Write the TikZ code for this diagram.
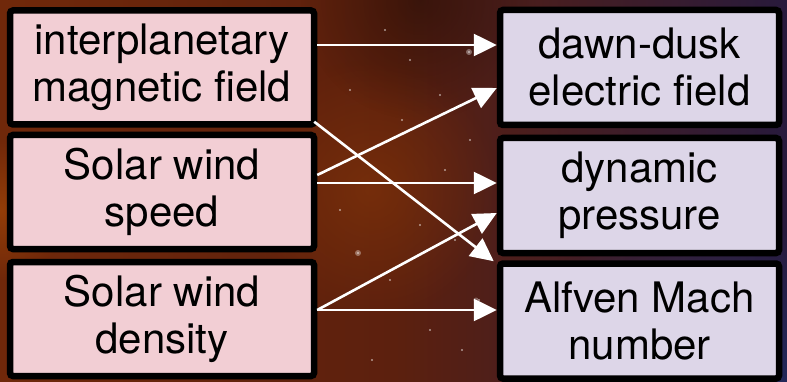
\documentclass[tikz,border=0pt]{standalone}
\usepackage{fontspec}
\setmainfont{TeX Gyre Heros}
\usetikzlibrary{arrows.meta,fadings}
\tikzfading[name=softfade, inner color=transparent!0, outer color=transparent!100]
\definecolor{srcfill}{RGB}{242,206,212}
\definecolor{dstfill}{RGB}{221,214,232}
\definecolor{bgA}{RGB}{112,40,10}
\definecolor{bgB}{RGB}{92,32,14}
\definecolor{bgC}{RGB}{40,26,60}
\definecolor{bgD}{RGB}{30,55,120}
\tikzset{
  box/.style={draw=black, line width=6.5pt, rounded corners=3pt, align=center,
    font=\fontsize{42}{47}\selectfont, text=black, inner sep=0pt},
  srcbox/.style={box, fill=srcfill, minimum width=304pt, minimum height=114pt},
  dstbox/.style={box, fill=dstfill, minimum width=279pt, minimum height=115pt},
  link/.style={draw=white, line width=2.6pt, -{Triangle[length=23pt,width=22pt]}},
  star/.style={fill=white, opacity=0.55}
}
\begin{document}
\begin{tikzpicture}[x=1pt,y=-1pt]
\useasboundingbox (0,0) rectangle (787,382);
% background
\shade[left color=bgA, right color=bgC, middle color=bgB] (0,0) rectangle (787,382);
\fill[bgD, path fading=softfade, opacity=0.85] (700,420) circle (210);
\fill[bgA!60!orange, path fading=softfade, opacity=0.6] (0,210) circle (70);
\fill[bgA!80!orange, path fading=softfade, opacity=0.5] (370,190) circle (130);
\fill[black, path fading=softfade, opacity=0.35] (420,0) circle (120);
% stars
\foreach \p in {(358,253),(469,52),(479,300),(430,330),(402,120),(350,90),(455,240),(390,280),(372,360),(445,170),(410,60),(340,210),(462,350),(420,225),(385,30),(440,95),(470,140),(335,300)}
  \fill[star] \p circle (1.1);
\fill[white, opacity=0.35] (358,253) circle (3);
\fill[white, opacity=0.35] (469,52) circle (3);
\fill[white, opacity=0.3] (476,300) circle (2.5);
% nodes
\node[srcbox] (l1) at (162,67.5) {interplanetary\\magnetic field};
\node[srcbox] (l2) at (162,192) {Solar wind\\speed};
\node[srcbox] (l3) at (162,319) {Solar wind\\density};
\node[dstbox] (r1) at (639.5,67.5) {dawn-dusk\\electric field};
\node[dstbox] (r2) at (639.5,195.5) {dynamic\\pressure};
\node[dstbox] (r3) at (639.5,321) {Alfven Mach\\number};
% links
\draw[link] ([yshift=22.5pt]l1.east) -- ([yshift=22.5pt]r1.west);
\draw[link] ([shift={(-3pt,6pt)}]l1.south east) -- ([shift={(-3pt,-1pt)}]r3.north west);
\draw[link] ([yshift=17pt]l2.east) -- ([yshift=-20.5pt]r1.west);
\draw[link] ([yshift=9pt]l2.east) -- ([yshift=12.5pt]r2.west);
\draw[link] ([yshift=9pt]l3.east) -- ([yshift=-17.5pt]r2.west);
\draw[link] ([yshift=9pt]l3.east) -- ([yshift=11pt]r3.west);
\end{tikzpicture}
\end{document}
